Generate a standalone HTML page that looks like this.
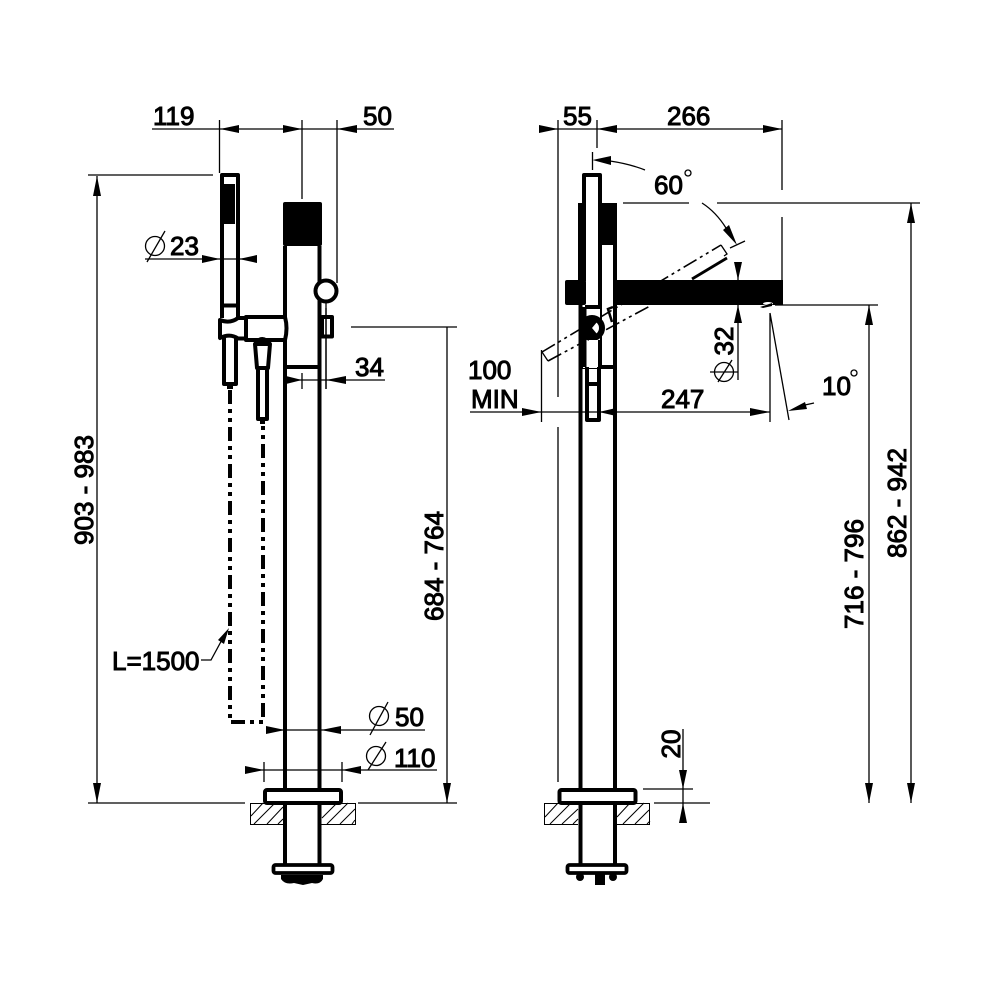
<!DOCTYPE html>
<html>
<head>
<meta charset="utf-8">
<style>
html,body{margin:0;padding:0;background:#fff}
svg{display:block}
text{font-family:"Liberation Sans",Arial,sans-serif;font-size:26px;fill:#000;stroke:#000;stroke-width:1}
.t{fill:none;stroke:#000;stroke-width:1.300}
.h{fill:none;stroke:#000;stroke-width:1}
.k{fill:none;stroke:#000;stroke-width:4;stroke-linejoin:round}
.d{fill:none;stroke:#000;stroke-width:4;stroke-dasharray:14 5 4 5 4 5}
.dd{fill:none;stroke:#000;stroke-width:1.600;stroke-dasharray:15 4 3 4 3 4}
.f{fill:#000;stroke:none}
</style>
</head>
<body>
<svg width="1000" height="1000" viewBox="0 0 1000 1000" xmlns="http://www.w3.org/2000/svg">
<rect width="1000" height="1000" fill="#fff"/>

<!-- LEFT VIEW dimensions -->
<path class="t" d="M152 129H394M219.500 120V173M302 120V199M337 120V283M88 175H213M97 176V803M351 327H457M447 327V803M88 803H245M358 803H457"/>
<path class="f" d="M220 129L239 125V133ZM302 129L283 125V133ZM337 129L357 125V133ZM97 176L93 196H101ZM97 803L93 783H101ZM447 803L443 783H451Z"/>
<text x="153" y="125">119</text>
<text x="363" y="125">50</text>
<text transform="translate(93 490) rotate(-90)" text-anchor="middle">903 - 983</text>
<text transform="translate(443 566) rotate(-90)" text-anchor="middle">684 - 764</text>

<!-- dia 23 -->
<path class="t" d="M145 259H257M147 262L165 231"/>
<circle class="t" cx="155" cy="246" r="9.500"/>
<path class="f" d="M220 259L202 255V263ZM239 259L257 255V263Z"/>
<text x="170" y="255">23</text>

<!-- 34 -->
<path class="t" d="M286 380H385M302 373V389M326 308V389"/>
<path class="f" d="M302 380L286 376V384ZM326 380L346 376V384Z"/>
<text x="355" y="376">34</text>

<!-- L=1500 -->
<text x="112" y="670">L=1500</text>
<path class="t" d="M201 660H211L224 636"/>
<path class="f" d="M229 628L218 640L224 644Z"/>

<!-- dia 50 / 110 -->
<path class="t" d="M266 730H425M370 735L388 702M245 770H437M264 762V782M342 762V782M368 770L386 742"/>
<circle class="t" cx="379" cy="716" r="9.500"/>
<circle class="t" cx="376" cy="756" r="9.500"/>
<path class="f" d="M285 730L266 726V734ZM321 730L341 726V734ZM264 770L245 766V774ZM342 770L361 766V774Z"/>
<text x="395" y="726">50</text>
<text x="394" y="767">110</text>

<!-- LEFT VIEW body -->
<path class="k" d="M285 246V788M319.500 246V788M285 367H320"/>
<rect class="f" x="283" y="202" width="39" height="44" rx="2"/>
<circle cx="326" cy="291" r="10.500" fill="#fff" stroke="#000" stroke-width="4"/>
<rect class="k" x="322" y="317" width="10" height="19.500" fill="#fff"/>
<path class="t" d="M326 302V389"/>

<!-- hand shower -->
<path class="k" fill="#fff" d="M222 318V175H238V318"/>
<rect class="f" x="224" y="184" width="11" height="40"/>
<path class="k" d="M223 305.500H237"/>
<!-- bracket -->
<path fill="#fff" stroke="#000" stroke-width="4" stroke-linejoin="round" d="M246 317H285Q288 328 285 340H246Z"/>
<path fill="#fff" stroke="#000" stroke-width="4" stroke-linejoin="round" d="M220 320Q230 324 238 318H246V338.500H238Q230 333 220 338Z"/>
<!-- hose stub -->
<path class="k" fill="#fff" d="M224 337V384H236V337"/>
<!-- cone -->
<path class="k" fill="#fff" d="M255 344Q262 334 270 344L268 368H257ZM258 368H267V419H258Z"/>
<path class="f" d="M254 342H271V346H254ZM260 420H265V424H260ZM227 385H233V389H227Z"/>
<path class="d" d="M230 390V722H263V424"/>

<!-- flange + floor left -->
<path class="h" d="M283 824.500H250.500V803.500H283M321 803.500H355.500V824.500H321"/>
<path class="h" d="M251 816L263 803M254 824L275 803M267 824L283 807M278 824L283 819M322 818L337 803M327 824L348 803M340 824L355 809M352 824L355 820"/>
<rect x="265" y="790" width="76" height="13" rx="2" fill="#fff" stroke="#000" stroke-width="4"/>
<path class="k" d="M285 805V864M319.500 805V864"/>
<rect x="273.500" y="865" width="59" height="8" rx="2" fill="#fff" stroke="#000" stroke-width="3.800"/>
<path class="f" d="M281 875H323V879Q320 885 312 883L303 885L294 883Q285 885 281 879Z"/>

<!-- RIGHT VIEW dimensions -->
<path class="t" d="M539 129H782M558 120V397M558 427V782M597 120V148M592.500 152V170M782 120V190M782 217V280M623 203H689M717 203H920M911 203V803M775 305H878M869 305V803M643 789H693M654 803H710M683 729V823"/>
<path class="f" d="M558 129L539 125V133ZM597 129L617 125V133ZM782 129L763 125V133ZM911 203L907 223H915ZM911 803L907 783H915ZM869 305L865 325H873ZM869 803L865 783H873ZM683 789L679 770H687ZM683 803L679 823H687Z"/>
<text x="563" y="125">55</text>
<text x="667" y="125">266</text>
<text transform="translate(906 503) rotate(-90)" text-anchor="middle">862 - 942</text>
<text transform="translate(863 574) rotate(-90)" text-anchor="middle">716 - 796</text>
<text transform="translate(680 744) rotate(-90)" text-anchor="middle">20</text>

<!-- 60 deg -->
<path class="t" d="M610 161Q630 164 645 170M702 203Q716 212 726 228M730 248L745 241"/>
<path class="f" d="M592.500 160L611 156L611 165ZM737 245L723 230L729 225Z"/>
<text x="654" y="194">60</text>
<circle class="t" cx="688" cy="173" r="3"/>

<!-- tilted shower outline -->
<path class="dd" d="M542 352L721 245M548 361L650 306"/>
<path class="t" stroke-width="1.800" d="M542 352L548 361M721 245L727 254L724 256"/>
<path fill="none" stroke="#000" stroke-width="2.800" d="M692 279L727 258"/>
<path fill="none" stroke="#000" stroke-width="2.500" d="M613 307L608 309L612 322"/>

<!-- Right body -->
<rect x="586" y="177" width="12" height="128" fill="#fff"/>
<path class="k" d="M580.500 305V788M615 244V788M580 367H615"/>
<rect class="f" x="578" y="203" width="8" height="78"/>
<rect class="f" x="598" y="203" width="19" height="42"/>
<path class="k" d="M584 204V175H600V340"/>
<rect class="f" x="565" y="280" width="21" height="25" rx="2"/>
<rect class="f" x="613" y="280" width="170" height="25"/>
<ellipse cx="768" cy="303.500" rx="5" ry="1.500" fill="#fff"/>
<path class="f" d="M760 307L772 303V306L763 308Z"/>

<!-- lower shower on right view -->
<rect x="583" y="306" width="17" height="62" fill="#fff"/>
<path class="k" d="M585 307H600M584.500 307V367M600 340V367"/>
<circle cx="592" cy="328" r="10" fill="#fff" stroke="#000" stroke-width="6"/>
<path class="f" d="M592 319A9 9 0 0 0 592 337L597 334L592 328L597 322Z"/>
<rect x="589" y="340" width="9" height="27" fill="#fff"/>
<path class="k" d="M587 367V420H599V367M587 384H599"/>

<!-- dia 32 -->
<path class="t" d="M738 262V380M710 372H738M718 382L732 360"/>
<circle class="t" cx="724" cy="372" r="9.500"/>
<path class="f" d="M738 280L734 262H742ZM738 305L734 323H742Z"/>
<text transform="translate(733 341) rotate(-90)" text-anchor="middle">32</text>

<!-- 247 / 100 MIN -->
<path class="t" d="M470 412H770M541.500 350V422M770 313V422M770 313L789 420M805 405L814 403"/>
<path class="f" d="M541.500 412L522 408V416ZM599 412L616 408V416ZM770 412L750 408V416ZM788 411L805 402L807 409Z"/>
<text x="468" y="379">100</text>
<text x="471" y="408">MIN</text>
<text x="661" y="408">247</text>
<text x="822" y="395">10</text>
<circle class="t" cx="854" cy="373" r="3"/>

<!-- flange + floor right -->
<path class="h" d="M578 824.500H544.500V803.500H578M617 803.500H649.500V824.500H617"/>
<path class="h" d="M545 817L558 803M550 824L571 803M562 824L578 809M573 824L578 819M617 817L630 803M623 824L644 803M635 824L649 810M647 824L650 821"/>
<rect x="559.500" y="790" width="76" height="13" rx="2" fill="#fff" stroke="#000" stroke-width="4"/>
<path class="k" d="M580.500 805V864M615 805V864"/>
<rect x="567.500" y="865" width="59" height="8" rx="2" fill="#fff" stroke="#000" stroke-width="3.800"/>
<circle class="f" cx="580" cy="877" r="4"/>
<circle class="f" cx="613" cy="877" r="4"/>
<rect class="f" x="595" y="874" width="10" height="11"/>
</svg>
</body>
</html>
